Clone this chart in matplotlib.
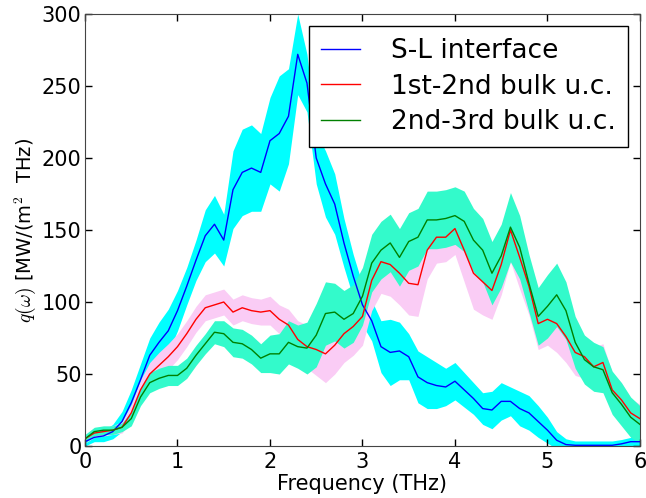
import numpy as np
import matplotlib
matplotlib.use('Agg')
import matplotlib.pyplot as plt

plt.rcParams['mathtext.fontset'] = 'cm'

# frequency grid (THz) and heat-flux spectra
freq = np.round(np.arange(0, 6.01, 0.1), 2)

sl_interface = [3, 6, 7, 10, 17, 30, 46, 63, 72, 80,
                94, 111, 129, 146, 154, 143, 178, 190, 193, 190,
                212, 217, 229, 272, 252, 200, 182, 168, 141, 118,
                98, 87, 69, 65, 66, 62, 48, 44, 42, 41,
                45, 39, 33, 26, 25, 31, 31, 26, 23, 17,
                11, 4, 1, 0.5, 0.5, 0.5, 0.5, 0.5, 1.5, 3,
                3]
sl_err = [3, 3, 4, 5, 7, 9, 11, 12, 14, 15,
          14, 13, 14, 18, 20, 18, 27, 30, 30, 27,
          30, 40, 33, 28, 20, 18, 23, 21, 17, 15,
          14, 14, 18, 23, 20, 16, 18, 18, 16, 13,
          13, 12, 11, 11, 13, 13, 10, 12, 12, 11,
          9, 6, 4, 3, 3, 3, 3, 3, 3, 3,
          3]

bulk_12 = [5, 9, 10, 11, 13, 23, 39, 50, 56, 62,
           69, 78, 88, 96, 98, 100, 93, 96, 94, 93,
           94, 88, 84, 74, 69, 67, 64, 70, 78, 83,
           90, 115, 128, 126, 120, 113, 112, 136, 145, 145,
           151, 136, 120, 114, 108, 126, 150, 131, 111, 85,
           88, 85, 76, 65, 62, 55, 58, 39, 32, 23,
           19]
bulk_12_err = [3, 3, 3, 3, 4, 6, 7, 8, 9, 9,
               9, 9, 9, 9, 9, 9, 9, 9, 9, 9,
               10, 10, 11, 13, 15, 18, 20, 20, 20, 20,
               20, 21, 22, 22, 22, 22, 22, 20, 18, 17,
               18, 22, 25, 23, 20, 21, 22, 22, 20, 18,
               18, 20, 18, 16, 15, 14, 13, 12, 12, 10,
               10]

bulk_23 = [5, 10, 11, 11, 13, 19, 34, 44, 47, 49,
           49, 54, 63, 71, 79, 78, 72, 71, 67, 61,
           64, 64, 72, 69, 68, 77, 92, 93, 88, 92,
           104, 127, 136, 141, 131, 142, 145, 157, 157, 158,
           160, 156, 143, 136, 120, 132, 152, 138, 113, 90,
           97, 105, 94, 72, 60, 55, 53, 37, 29, 20,
           15]
bulk_23_err = [3, 3, 3, 3, 3, 5, 6, 7, 7, 7,
               7, 7, 7, 7, 8, 9, 10, 10, 10, 10,
               13, 14, 15, 15, 18, 22, 22, 20, 20, 20,
               20, 20, 20, 20, 20, 20, 20, 20, 20, 20,
               20, 21, 22, 22, 22, 22, 24, 22, 20, 20,
               22, 22, 20, 18, 17, 17, 16, 15, 15, 14,
               13]

labels = ['S-L interface', '1st-2nd bulk u.c.', '2nd-3rd bulk u.c.']

sl = np.array(sl_interface)
b12 = np.array(bulk_12)
b23 = np.array(bulk_23)

fig = plt.figure(figsize=(6.46, 4.98), dpi=100)
ax = fig.add_axes([0.1316, 0.1044, 0.859, 0.8675])

# shaded error bands first, lines on top
ax.fill_between(freq, sl - np.array(sl_err), sl + np.array(sl_err),
                color='cyan', linewidth=0)
ax.fill_between(freq, b12 - np.array(bulk_12_err), b12 + np.array(bulk_12_err),
                color='#FACCF5', linewidth=0)
ax.fill_between(freq, b23 - np.array(bulk_23_err), b23 + np.array(bulk_23_err),
                color='#33FACB', linewidth=0)

ax.plot(freq, sl, color='b', lw=1.0, label=labels[0])
ax.plot(freq, b12, color='r', lw=1.0, label=labels[1])
ax.plot(freq, b23, color='g', lw=1.0, label=labels[2])

ax.set_xlim(0, 6)
ax.set_ylim(0, 300)
ax.set_xticks(range(0, 7))
ax.set_yticks(range(0, 301, 50))
ax.tick_params(direction='in', top=True, right=True, length=5, width=1,
               labelsize=15)
ax.tick_params(axis='x', pad=4)
ax.tick_params(axis='y', pad=2.5)
for sp in ax.spines.values():
    sp.set_color('#444444')

ax.set_xlabel('Frequency (THz)', fontsize=15, labelpad=2)
ax.set_ylabel(r'$q(\omega)$ [MW/(m$^{\mathsf{2}}$  THz)', fontsize=14, labelpad=3)

leg = ax.legend(loc='upper right', fontsize=19, fancybox=False,
                framealpha=1, edgecolor='black', handlelength=1.45,
                handletextpad=1.2, labelspacing=0.37, borderpad=0.45,
                borderaxespad=0.45)
leg.get_frame().set_linewidth(1.0)

plt.savefig('out.png', dpi=100)
